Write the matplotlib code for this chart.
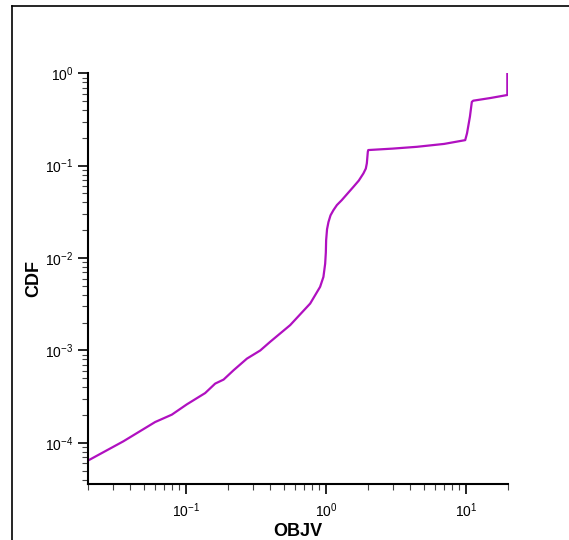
import matplotlib
matplotlib.use("Agg")
import matplotlib.pyplot as plt
from matplotlib.lines import Line2D

plt.rcParams['font.family'] = ['Liberation Sans', 'DejaVu Sans']
plt.rcParams['mathtext.default'] = 'regular'

# CDF curve
objv = [0.0201, 0.0358, 0.0603, 0.0794, 0.1016, 0.1374, 0.162, 0.186, 0.219,
        0.273, 0.340, 0.40, 0.556, 0.773, 0.91, 0.961, 0.989, 1.0, 1.005,
        1.02, 1.044, 1.08, 1.133, 1.2, 1.30, 1.43, 1.574, 1.72, 1.856, 1.93,
        1.963, 1.995, 2.01, 3.0, 4.47, 7.0, 9.9, 10.2, 10.7, 11.04, 11.3,
        15.0, 19.8, 19.8]
cdf = [6.46e-5, 1.04e-4, 1.68e-4, 2.02e-4, 2.61e-4, 3.46e-4, 4.38e-4, 4.84e-4,
       6.1e-4, 8.16e-4, 1.0e-3, 1.24e-3, 1.88e-3, 3.22e-3, 4.88e-3, 6.25e-3,
       8.7e-3, 0.0115, 0.0156, 0.0205, 0.0245, 0.029, 0.033, 0.0375, 0.0424,
       0.050, 0.059, 0.069, 0.0825, 0.093, 0.106, 0.1415, 0.1476, 0.153, 0.16,
       0.172, 0.189, 0.224, 0.339, 0.49, 0.505, 0.54, 0.582, 1.0]

fig = plt.figure(figsize=(5.69, 5.40), dpi=100)
ax = fig.add_axes([0.1547, 0.1046, 0.738, 0.7597])

ax.plot(objv, cdf, color='#b010c0', lw=1.6)

ax.set_xscale('log')
ax.set_yscale('log')
ax.set_xlim(0.02, 20)
ax.set_ylim(10 ** -4.44, 1)

for s in ['top', 'right']:
    ax.spines[s].set_visible(False)
for s in ['left', 'bottom']:
    ax.spines[s].set_linewidth(1.5)

ax.tick_params(which='major', direction='out', length=7, width=1.2, labelsize=10)
ax.tick_params(which='minor', direction='out', length=4, width=0.8, color='#444444')
ax.tick_params(axis='x', pad=6)

ax.set_xlabel('OBJV', fontsize=13, fontweight='bold', labelpad=2)
ax.set_ylabel('CDF', fontsize=13, fontweight='bold')
ax.yaxis.set_label_coords(-0.11, 0.5)

# outer frame
fig.add_artist(Line2D([0.0204, 0.0204], [0.0, 0.9898], color='black', lw=1.2,
                      transform=fig.transFigure))
fig.add_artist(Line2D([0.0204, 1.0], [0.9898, 0.9898], color='black', lw=1.2,
                      transform=fig.transFigure))

fig.savefig('out.png', dpi=100)
